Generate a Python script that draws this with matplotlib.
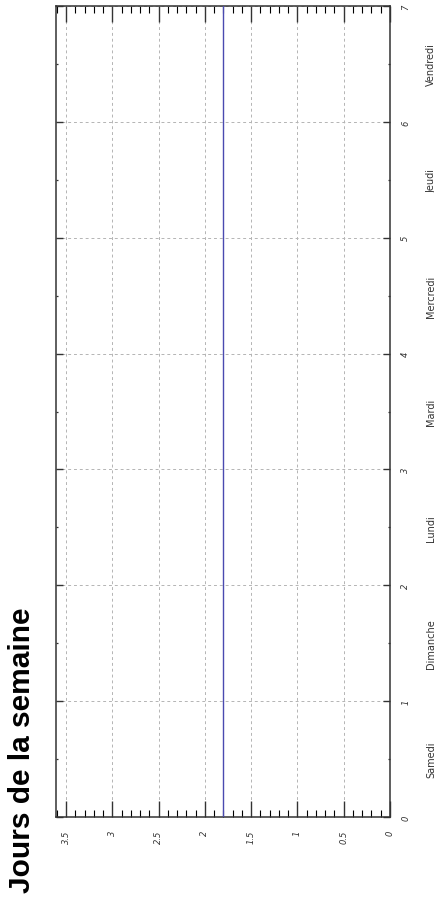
import matplotlib
matplotlib.use("Agg")
import matplotlib.pyplot as plt
from matplotlib.ticker import MultipleLocator, FixedLocator, FixedFormatter

# Day positions along the week axis and the value recorded at each
day_positions = [0, 1, 2, 3, 4, 5, 6, 7]
values = [1.8, 1.8, 1.8, 1.8, 1.8, 1.8, 1.8, 1.8]

day_names = ["Samedi", "Dimanche", "Lundi", "Mardi", "Mercredi", "Jeudi", "Vendredi"]
day_label_positions = [0.5, 1.5, 2.5, 3.5, 4.5, 5.5, 6.5]
week_ticks = [0, 1, 2, 3, 4, 5, 6, 7]
value_ticks = [0, 0.5, 1, 1.5, 2, 2.5, 3, 3.5]
value_tick_labels = ["0", "0.5", "1", "1.5", "2", "2.5", "3", "3.5"]

title = "Jours de la semaine"

fig = plt.figure(figsize=(4.35, 9.03), dpi=100)
ax = fig.add_axes([56 / 435, 85 / 903, 334 / 435, 811 / 903])

ax.plot(values, day_positions, color="#4a4ab0", linewidth=1.0, zorder=3)

ax.set_xlim(3.608, 0)
ax.set_ylim(0, 7)

# value axis (horizontal, reversed)
ax.xaxis.set_major_locator(FixedLocator(value_ticks))
ax.xaxis.set_major_formatter(FixedFormatter(value_tick_labels))
ax.xaxis.set_minor_locator(MultipleLocator(0.1))
ax.tick_params(axis="x", which="major", direction="in", length=11.5, width=1.0,
               top=True, bottom=True, labelbottom=True, labeltop=False,
               labelrotation=90, labelsize=6, pad=9, colors="#333333")
ax.tick_params(axis="x", which="minor", direction="in", length=5, width=0.8,
               top=True, bottom=True)
for lbl in ax.get_xticklabels():
    lbl.set_fontstyle("italic")
    lbl.set_color("#333333")

# week axis (vertical), numbers and day names on the right
ax.yaxis.set_major_locator(FixedLocator(week_ticks))
ax.yaxis.set_major_formatter(FixedFormatter([str(t) for t in week_ticks]))
ax.yaxis.set_minor_locator(FixedLocator(day_label_positions))
ax.yaxis.set_minor_formatter(FixedFormatter(day_names))
ax.tick_params(axis="y", which="major", direction="in", length=5, width=1.0,
               left=True, right=True, labelleft=False, labelright=True,
               labelrotation=90, labelsize=6, pad=8, colors="#333333")
ax.tick_params(axis="y", which="minor", direction="in", length=1.5, width=0.9,
               left=True, right=True, labelleft=False, labelright=True,
               labelrotation=90, labelsize=7, pad=26, colors="#333333")
for lbl in ax.get_yticklabels():
    lbl.set_fontstyle("italic")
    lbl.set_va("center")
for lbl in ax.get_yticklabels(minor=True):
    lbl.set_va("center")

ax.grid(True, which="major", color="#b4b4b4", linestyle=(0, (3, 3)), linewidth=0.7)
ax.set_axisbelow(True)

for side in ["left", "right", "top", "bottom"]:
    ax.spines[side].set_color("#333333")
    ax.spines[side].set_linewidth(1.1)

fig.text(22 / 435, 10 / 903, title, rotation=90, ha="center", va="bottom",
         fontsize=21.5, fontweight="bold", family=["Liberation Sans", "DejaVu Sans"])

fig.savefig("out.png", dpi=100)
